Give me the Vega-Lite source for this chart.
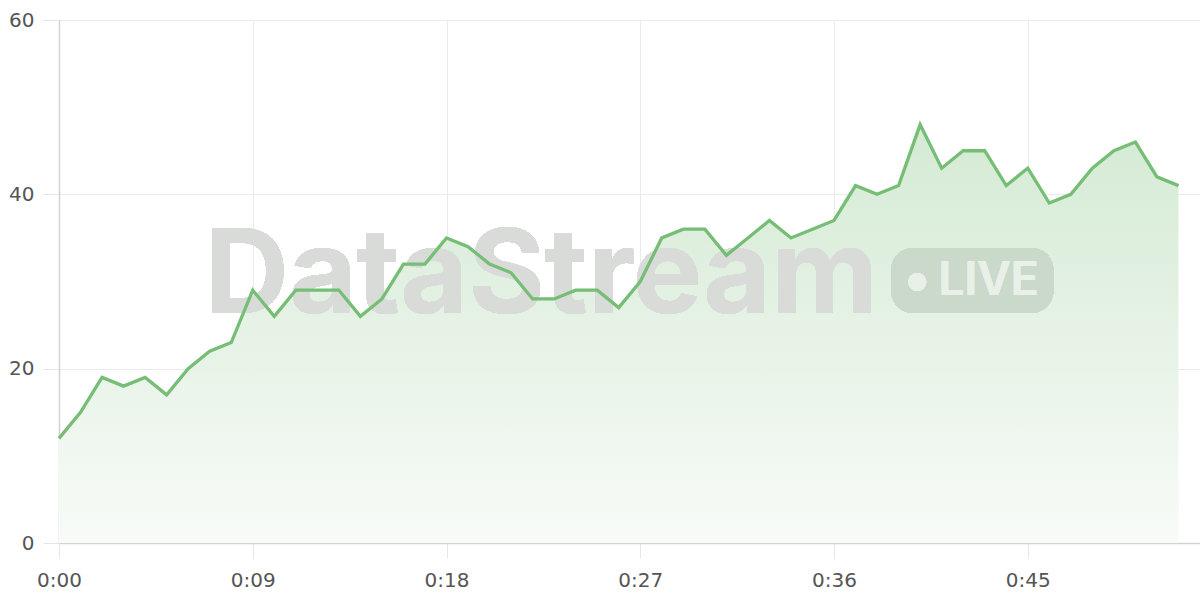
{
  "$schema": "https://vega.github.io/schema/vega-lite/v6.json",
  "width": 1141,
  "height": 523,
  "autosize": {"type": "none"},
  "padding": {"left": 59, "top": 20, "right": 0, "bottom": 57},
  "background": "white",
  "config": {
    "view": {"stroke": "transparent"},
    "font": "Inter",
    "axis": {
      "labelFont": "DejaVu Sans",
      "labelFontSize": 20,
      "labelColor": "#555555",
      "gridColor": "#ebebeb",
      "gridWidth": 1,
      "tickColor": "#e6e6e6",
      "domainColor": "#d2d2d2",
      "domainWidth": 1.5
    }
  },
  "data": {
    "values": [
      {"t": 0, "v": 12}, {"t": 1, "v": 15}, {"t": 2, "v": 19}, {"t": 3, "v": 18},
      {"t": 4, "v": 19}, {"t": 5, "v": 17}, {"t": 6, "v": 20}, {"t": 7, "v": 22},
      {"t": 8, "v": 23}, {"t": 9, "v": 29}, {"t": 10, "v": 26}, {"t": 11, "v": 29},
      {"t": 12, "v": 29}, {"t": 13, "v": 29}, {"t": 14, "v": 26}, {"t": 15, "v": 28},
      {"t": 16, "v": 32}, {"t": 17, "v": 32}, {"t": 18, "v": 35}, {"t": 19, "v": 34},
      {"t": 20, "v": 32}, {"t": 21, "v": 31}, {"t": 22, "v": 28}, {"t": 23, "v": 28},
      {"t": 24, "v": 29}, {"t": 25, "v": 29}, {"t": 26, "v": 27}, {"t": 27, "v": 30},
      {"t": 28, "v": 35}, {"t": 29, "v": 36}, {"t": 30, "v": 36}, {"t": 31, "v": 33},
      {"t": 32, "v": 35}, {"t": 33, "v": 37}, {"t": 34, "v": 35}, {"t": 35, "v": 36},
      {"t": 36, "v": 37}, {"t": 37, "v": 41}, {"t": 38, "v": 40}, {"t": 39, "v": 41},
      {"t": 40, "v": 48}, {"t": 41, "v": 43}, {"t": 42, "v": 45}, {"t": 43, "v": 45},
      {"t": 44, "v": 41}, {"t": 45, "v": 43}, {"t": 46, "v": 39}, {"t": 47, "v": 40},
      {"t": 48, "v": 43}, {"t": 49, "v": 45}, {"t": 50, "v": 46}, {"t": 51, "v": 42},
      {"t": 52, "v": 41}
    ]
  },
  "encoding": {
    "x": {
      "field": "t",
      "type": "quantitative",
      "title": null,
      "scale": {"domain": [0, 53], "nice": false, "zero": false},
      "axis": {
        "values": [0, 9, 18, 27, 36, 45],
        "labelExpr": "floor(datum.value / 60) + ':' + (datum.value % 60 < 10 ? '0' : '') + (datum.value % 60)",
        "tickSize": 15,
        "labelPadding": 12,
        "labelFlush": false
      }
    },
    "y": {
      "field": "v",
      "type": "quantitative",
      "title": null,
      "scale": {"domain": [0, 60], "nice": false},
      "axis": {
        "values": [0, 20, 40, 60],
        "tickSize": 16,
        "labelPadding": 9
      }
    }
  },
  "layer": [
    {
      "mark": {
        "type": "area",
        "color": {
          "gradient": "linear",
          "x1": 1, "y1": 0, "x2": 1, "y2": 1,
          "stops": [
            {"offset": 0, "color": "#d4ead4"},
            {"offset": 1, "color": "#f8fbf8"}
          ]
        }
      }
    },
    {
      "mark": {
        "type": "text",
        "text": "DataStream",
        "font": "Inter",
        "fontSize": 117,
        "fontWeight": "bold",
        "align": "center",
        "baseline": "alphabetic",
        "color": "#d9dbd9"
      },
      "encoding": {
        "x": {"datum": 22.4, "type": "quantitative"},
        "y": {"datum": 26.4, "type": "quantitative"}
      }
    },
    {
      "mark": {
        "type": "rect",
        "color": "#cbd9cb",
        "cornerRadius": 22
      },
      "encoding": {
        "x": {"datum": 38.66, "type": "quantitative"},
        "x2": {"datum": 46.19},
        "y": {"datum": 33.84, "type": "quantitative"},
        "y2": {"datum": 26.39}
      }
    },
    {
      "mark": {
        "type": "circle",
        "color": "#e8f0e8",
        "opacity": 1,
        "size": 320
      },
      "encoding": {
        "x": {"datum": 39.87, "type": "quantitative"},
        "y": {"datum": 29.94, "type": "quantitative"}
      }
    },
    {
      "mark": {
        "type": "text",
        "text": "LIVE",
        "font": "Inter",
        "fontSize": 46,
        "fontWeight": 600,
        "align": "left",
        "baseline": "alphabetic",
        "color": "#e8f0e8"
      },
      "encoding": {
        "x": {"datum": 40.85, "type": "quantitative"},
        "y": {"datum": 28.45, "type": "quantitative"}
      }
    },
    {
      "mark": {"type": "line", "color": "#76bd76", "strokeWidth": 3.3}
    }
  ]
}
